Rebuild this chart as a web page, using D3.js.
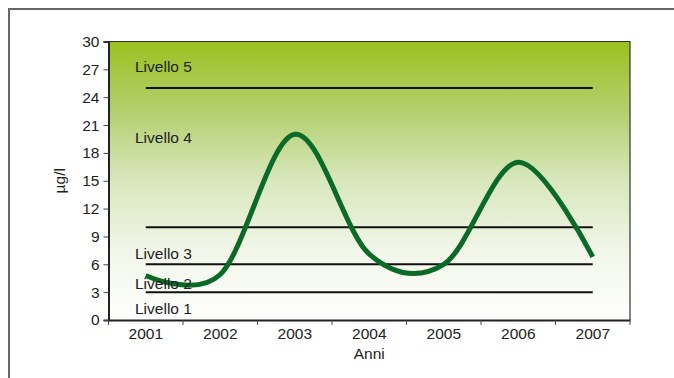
<!DOCTYPE html>
<html>
<head>
<meta charset="utf-8">
<script src="https://cdn.jsdelivr.net/npm/d3@7"></script>
<style>
  html, body { margin: 0; padding: 0; background: #fff; }
  svg { display: block; font-family: "Liberation Sans", Arial, sans-serif; }
</style>
</head>
<body>
<svg id="chart" width="674" height="378"></svg>
<script>
// Anni e concentrazioni misurate (µg/l)
const years = ["2001", "2002", "2003", "2004", "2005", "2006", "2007"];
const values = [4.8, 4.9, 20, 7.1, 6.0, 17, 6.8];
const yTicks = [0, 3, 6, 9, 12, 15, 18, 21, 24, 27, 30];
// Soglie fra i livelli e posizione delle etichette
const thresholds = [25, 10, 6, 3];
const levelNames = ["Livello 5", "Livello 4", "Livello 3", "Livello 2", "Livello 1"];
const levelLabelAt = [26.7, 19.1, 6.6, 3.35, 0.65];

const svg = d3.select("#chart");
const margin = { left: 108.5, top: 41.5, right: 44, bottom: 58 };
const W = 674, H = 378;
const iw = W - margin.left - margin.right;
const ih = H - margin.top - margin.bottom;
const FS = 15.5;

// Cornice esterna
svg.append("path")
  .attr("d", "M9,378 V9 H674")
  .attr("fill", "none").attr("stroke", "#666").attr("stroke-width", 2);

const defs = svg.append("defs");
const grad = defs.append("linearGradient")
  .attr("id", "bg").attr("x1", 0).attr("y1", 0).attr("x2", 0).attr("y2", 1);
[[0, "#9bc120"], [0.25, "#b3cf6e"], [0.5, "#d8e7bd"], [0.75, "#f1f6e8"], [1, "#ffffff"]]
  .forEach(([o, c]) => grad.append("stop").attr("offset", o).attr("stop-color", c));

const g = svg.append("g").attr("transform", `translate(${margin.left},${margin.top})`);

const x = d3.scaleBand().domain(years).range([0, iw]).padding(0);
const y = d3.scaleLinear().domain([0, 30]).range([ih, 0]);

g.append("rect").attr("width", iw).attr("height", ih).attr("fill", "url(#bg)");

// Bordo sottile superiore e destro
g.append("path")
  .attr("d", `M0,0 H${iw} V${ih}`)
  .attr("fill", "none").attr("stroke", "#333").attr("stroke-width", 1.2);

const cx = d => x(d) + x.bandwidth() / 2;

// Linee di soglia
g.selectAll(".thr").data(thresholds).join("line")
  .attr("x1", cx(years[0])).attr("x2", cx(years[years.length - 1]))
  .attr("y1", d => y(d)).attr("y2", d => y(d))
  .attr("stroke", "#111").attr("stroke-width", 2);

// Serie
const line = d3.line()
  .x((d, i) => cx(years[i]))
  .y(d => y(d))
  .curve(d3.curveCardinal.tension(0));

g.append("path").datum(values)
  .attr("d", line)
  .attr("fill", "none").attr("stroke", "#0b6a27").attr("stroke-width", 5)
  .attr("stroke-linecap", "butt");

// Etichette dei livelli
g.selectAll(".lvl").data(levelNames).join("text")
  .attr("x", x(years[0]) + 26.5)
  .attr("y", (d, i) => y(levelLabelAt[i]))
  .attr("font-size", FS).attr("fill", "#222")
  .text(d => d);

// Asse Y
const yAxis = g.append("g")
  .call(d3.axisLeft(y).tickValues(yTicks).tickSize(5).tickPadding(4));
yAxis.select(".domain").attr("stroke", "#222").attr("stroke-width", 2);
yAxis.selectAll(".tick line").attr("stroke", "#444");
yAxis.selectAll("text").attr("font-size", FS).attr("fill", "#222")
  .attr("font-family", "Liberation Sans, Arial, sans-serif");

// Asse X con tacche ai bordi delle categorie
const xAxis = g.append("g").attr("transform", `translate(0,${ih})`)
  .call(d3.axisBottom(x).tickSize(0).tickPadding(8));
xAxis.select(".domain").attr("stroke", "#222").attr("stroke-width", 2.2);
xAxis.selectAll("text").attr("font-size", FS).attr("fill", "#222")
  .attr("font-family", "Liberation Sans, Arial, sans-serif");
xAxis.selectAll(".edge").data(d3.range(years.length + 1)).join("line")
  .attr("x1", i => i * x.step()).attr("x2", i => i * x.step())
  .attr("y1", 0).attr("y2", 5).attr("stroke", "#444");

// Titoli degli assi
g.append("text")
  .attr("x", iw / 2).attr("y", ih + 39)
  .attr("text-anchor", "middle").attr("font-size", FS).attr("fill", "#222")
  .text("Anni");
g.append("text")
  .attr("transform", `translate(${-44},${ih / 2}) rotate(-90)`)
  .attr("text-anchor", "middle").attr("font-size", FS).attr("fill", "#222")
  .text("µg/l");
</script>
</body>
</html>
